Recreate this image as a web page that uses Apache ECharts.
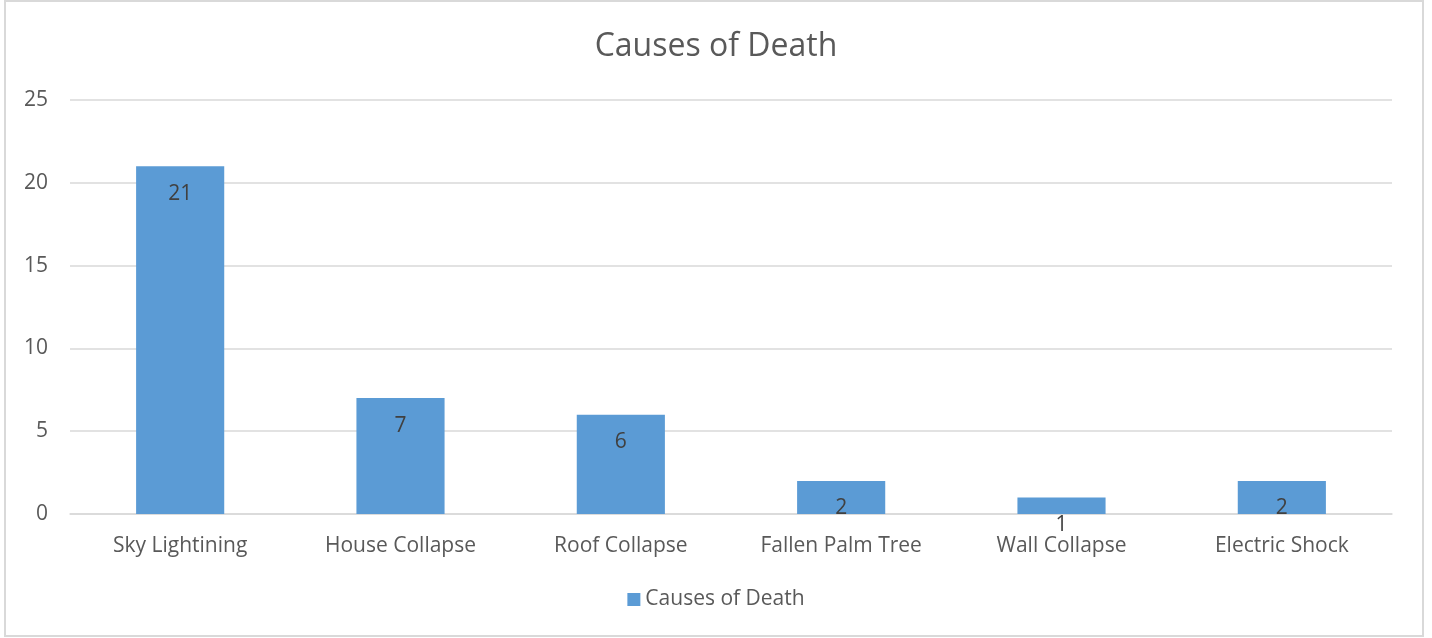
<!DOCTYPE html>
<html>
<head>
<meta charset="utf-8">
<script src="https://cdn.jsdelivr.net/npm/echarts@6/dist/echarts.min.js"></script>
<style>
html,body{margin:0;padding:0;background:#fff;}
#chart{width:1432px;height:638px;}
</style>
</head>
<body>
<div id="chart"></div>
<script>
const categories = ['Sky Lightining','House Collapse','Roof Collapse','Fallen Palm Tree','Wall Collapse','Electric Shock'];
const seriesName = 'Causes of Death';
const values = [21, 7, 6, 2, 1, 2];
const yTicks = [0, 5, 10, 15, 20, 25];

const FONT = 'Open Sans';
const chart = echarts.init(document.getElementById('chart'));
chart.setOption({
  animation: false,
  textStyle: {fontFamily: FONT},
  title: {
    text: 'Causes of Death',
    left: 'center',
    top: 26,
    textStyle: {fontFamily: FONT, fontSize: 32, fontWeight: 'normal', color: '#595959'}
  },
  graphic: [{
    type: 'rect',
    shape: {x: 5, y: 1, width: 1418, height: 635},
    style: {fill: 'none', stroke: '#d9d9d9', lineWidth: 2},
    silent: true
  }],
  legend: {
    data: [seriesName],
    bottom: 23,
    left: 'center',
    icon: 'rect',
    itemWidth: 13,
    itemHeight: 13,
    itemGap: 6,
    textStyle: {fontFamily: FONT, fontSize: 21, color: '#595959'}
  },
  grid: {left: 70, right: 40, top: 100, bottom: 124},
  xAxis: {
    type: 'category',
    data: categories,
    axisLine: {lineStyle: {color: '#d9d9d9', width: 1.5}},
    axisTick: {show: false},
    axisLabel: {fontFamily: FONT, fontSize: 21, color: '#595959', margin: 22, interval: 0}
  },
  yAxis: {
    type: 'value',
    min: yTicks[0],
    max: yTicks[yTicks.length - 1],
    interval: yTicks[1] - yTicks[0],
    axisLine: {show: false},
    axisTick: {show: false},
    splitLine: {lineStyle: {color: '#d9d9d9', width: 1.5}},
    axisLabel: {fontFamily: FONT, fontSize: 21, color: '#595959', margin: 22}
  },
  series: [{
    name: seriesName,
    type: 'bar',
    data: values,
    barWidth: '40%',
    itemStyle: {color: '#5b9bd5'},
    label: {
      show: true,
      position: 'insideTop',
      distance: 17,
      fontFamily: FONT,
      fontSize: 21,
      color: '#404040'
    }
  }]
});
</script>
</body>
</html>
